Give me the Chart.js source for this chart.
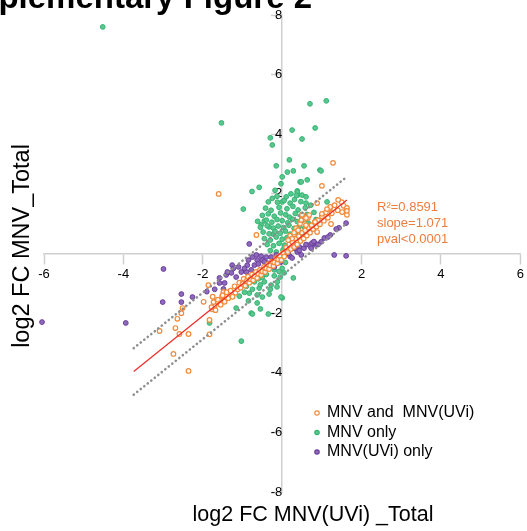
<!DOCTYPE html>
<html><head><meta charset="utf-8">
<script src="https://cdn.jsdelivr.net/npm/chart.js@4/dist/chart.umd.min.js"></script>
<style>html,body{margin:0;padding:0;background:#fff;overflow:hidden}#wrap{width:527px;height:531px;position:relative}</style>
</head><body><div id="wrap"><canvas id="c" width="527" height="531"></canvas></div>
<script>
// ---- data (log2 FC values) ----
const bothPoints = [
[-6.36,-6.93],[-1.6,2.0],[1.28,3.04],[-0.65,0.62],[-1.86,-1.06],[-2.51,-1.83],[-2.54,-2.0],[-2.64,-2.19],[-2.69,-2.5],[-3.09,-2.6],
[-2.59,-2.7],[-2.36,-2.7],[-2.74,-3.37],[-2.36,-3.94],[-1.83,-2.23],[-1.83,-2.71],[-1.76,-1.87],[-1.66,-1.61],[-1.75,-1.45],[-1.98,-1.62],
[-1.7,-1.75],[-1.48,-1.29],[-1.51,-1.43],[-1.48,-1.59],[-1.73,-1.63],[-1.78,-1.8],[-1.68,-1.9],
[-1.62,-1.55],[-1.55,-1.72],[-1.5,-1.4],[-1.45,-1.62],[-1.4,-1.3],[-1.36,-1.5],[-1.3,-1.25],[-1.25,-1.45],[-1.2,-1.1],[-1.18,-1.32],
[-1.12,-1.2],[-1.08,-0.98],[-1.05,-1.15],[-1.0,-1.02],[-0.97,-0.85],[-0.93,-1.08],[-0.9,-0.92],[-0.86,-0.78],[-0.83,-0.98],[-0.8,-0.86],
[-0.76,-0.7],[-0.73,-0.9],[-0.7,-0.76],[-0.66,-0.62],[-0.63,-0.82],[-0.6,-0.68],[-0.56,-0.55],[-0.53,-0.72],[-0.5,-0.6],[-0.46,-0.45],
[-0.43,-0.62],[-0.4,-0.5],[-0.36,-0.36],[-0.33,-0.52],[-0.3,-0.4],[-0.26,-0.27],[-0.22,-0.42],[-0.2,-0.3],[-0.16,-0.16],[-0.12,-0.33],
[-0.1,-0.2],[-0.06,-0.08],[-0.02,-0.22],[0.02,0.02],[0.05,-0.1],[0.1,0.2],[0.14,0.05],[0.18,0.3],[0.22,0.15],[0.26,0.38],[0.3,0.22],
[0.34,0.5],[0.38,0.3],[0.42,0.58],[0.46,0.42],[0.5,0.7],[0.54,0.5],[0.58,0.78],[0.62,0.6],[0.66,0.88],[0.7,0.7],[0.74,0.95],[0.78,0.82],
[0.82,1.05],[0.86,0.9],[0.9,1.12],[0.95,0.98],[1.0,1.25],[1.05,1.1],[1.1,1.38],[1.15,1.2],[1.2,1.5],[1.25,1.35],[1.32,1.62],[1.4,1.45],
[1.5,1.72],[1.55,1.6],[1.62,1.5],[1.63,1.3],
[0.2,0.6],[0.35,0.85],[0.45,1.0],[0.55,1.15],[0.6,0.95],[0.3,0.7],[0.4,0.78],[0.25,0.5],[0.65,1.2],[0.5,1.3],[0.15,0.45],
[1.0,2.27],[1.41,1.8],[1.21,1.56],[1.63,1.53],[1.63,1.43],[1.51,1.39],[1.23,0.99],[0.88,0.72],[0.68,1.29],[0.6,1.19],[0.88,1.69],
[1.0,1.33],[1.13,1.49],[0.83,1.06],[0.48,1.12]
];
const mnvOnlyPoints = [
[-4.52,7.6],[-1.53,4.38],[0.70,5.02],[1.11,5.12],[0.25,4.14],[0.83,4.21],[-0.30,3.88],[-0.25,3.64],[0.50,3.84],[0.18,3.14],
[-0.15,2.94],[0.13,2.73],[0.28,2.77],[0.55,2.94],[0.95,2.80],[0.0,2.57],[-0.03,2.34],[0.45,2.40],[0.63,2.47],[-0.58,2.22],
[-0.76,2.08],[-0.18,2.12],[-0.13,1.92],[-0.25,1.85],[-0.98,1.49],[0.38,2.1],[0.40,1.97],[-0.35,1.73],[0.0,1.73],[-0.45,1.09],
[-0.53,0.96],[-0.33,0.89],[-0.23,0.65],[0.48,2.4],[0.98,2.77],[0.38,2.06],[0.5,1.96],[0.6,1.9],[0.6,1.69],[1.13,1.73],
[-0.12,1.72],[0.05,1.78],[0.2,1.69],[0.31,1.81],[0.47,1.74],[0.1,1.9],[0.22,2.0],[0.36,1.95],
[-0.42,1.52],[-0.28,1.45],[-0.08,1.55],[0.12,1.5],[0.27,1.58],[0.4,1.46],[0.58,1.53],[0.72,1.62],
[-0.5,1.28],[-0.35,1.33],[-0.2,1.25],[-0.04,1.36],[0.09,1.3],[0.18,1.22],[0.33,1.34],[0.48,1.27],[0.63,1.31],[0.8,1.38],
[-0.62,1.08],[-0.4,1.12],[-0.26,1.05],[-0.13,1.14],[0.0,1.1],[0.14,1.03],[0.26,1.15],[0.38,1.07],[0.52,1.12],[0.66,1.02],[0.85,1.14],
[-0.55,0.88],[-0.38,0.93],[-0.22,0.85],[-0.1,0.92],[0.04,0.87],[0.17,0.95],[0.3,0.84],[0.43,0.9],[0.57,0.86],[0.7,0.93],[0.9,0.97],
[-0.48,0.72],[-0.33,0.66],[-0.18,0.74],[-0.05,0.68],[0.08,0.75],[0.2,0.65],[0.35,0.72],[0.5,0.67],[0.62,0.74],
[-0.45,0.5],[-0.3,0.45],[-0.15,0.55],[0.0,0.48],[0.12,0.53],[0.24,0.44],[0.38,0.52],
[-0.38,0.3],[-0.22,0.26],[-0.08,0.34],[0.06,0.28],[0.18,0.22],
[-0.3,0.1],[-0.15,0.05],[0.02,0.12],[0.12,0.04],
[-0.05,-0.15],[0.08,-0.3],[-0.03,-0.25],[0.0,-0.5],[-0.05,-0.79],[0.28,-0.82],[0.0,-1.49],[-0.2,-0.55],[-0.08,-0.6],[0.05,-0.65],
[-0.12,-0.95],[-0.28,-1.06],[-0.13,-1.12],[-0.58,-1.16],[-0.63,-1.39],[-0.83,-1.33],[-0.85,-1.59],[-1.08,-1.43],[-0.33,-1.36],[-0.78,-2.0],
[-0.03,-1.46],[-1.16,-1.83],[-0.75,-2.03],[-0.55,-1.86],[-0.35,-2.03],[-0.63,-1.66],[-0.5,-1.46],[-1.03,-2.94],[-1.83,-2.33],[-0.3,-1.2],
[-0.45,-0.95],[-0.6,-0.85],[-0.2,-0.75],[-0.9,-1.1],[-0.7,-0.95],[-0.5,-0.8],[-0.4,-0.7],[-0.75,-1.2],[-0.95,-1.3],[-0.55,-1.05]
];
const uviOnlyPoints = [
[-0.83,0.32],[-0.75,-0.12],[-0.65,-0.05],[-0.53,-0.09],[-0.4,-0.12],[-0.28,-0.12],[-0.15,-0.05],[-0.63,-0.22],[-0.5,-0.22],[-0.7,-0.39],
[-0.88,-0.39],[-0.78,-0.55],[-0.9,-0.62],[-1.26,-0.39],[-1.28,-0.65],[-1.41,-0.72],[-1.58,-0.99],[-1.45,-0.99],[-1.16,-0.79],[-1.03,-0.62],
[-0.38,-0.32],[-0.25,-0.29],[-0.6,-0.35],[-0.45,-0.28],[-0.95,-0.5],[-1.1,-0.45],[-0.85,-0.22],[-0.1,-0.2],[-0.05,-0.3],[-0.2,-0.45],
[1.61,1.02],[1.43,0.86],[1.36,0.82],[1.21,0.62],[1.06,0.52],[0.98,0.39],[0.85,0.32],[0.75,0.25],[0.68,0.28],[0.55,0.18],
[0.43,0.22],[0.35,0.15],[0.3,0.18],[0.38,0.05],[0.48,-0.05],[0.43,0.1],[0.73,0.18],[0.75,0.35],[1.31,-0.05],[1.61,-0.08],
[0.8,0.4],[0.6,0.3],[0.2,-0.1],[0.15,0.0],[0.25,-0.15],[0.9,0.3],[1.15,0.55],
[-2.99,-0.52],[-3.01,-1.63],[-2.54,-1.36],[-2.54,-1.63],[-2.26,-1.46],[-3.94,-2.33],[-1.38,-0.62],[-1.58,-0.82],[-1.48,-1.19],[-1.23,-0.5],
[-6.05,-2.3],[-1.7,-1.2],[-1.9,-1.28]
];
const xTickValues = [-6,-4,-2,0,2,4,6];
const yTickValues = [-8,-6,-4,-2,0,2,4,6,8];
const fitSlope = 1.071;
const fitIntercept = 0.05;
const fitBand = 0.78;
const fitXRange = [-3.74, 1.63];
const statLines = ['R\u00B2=0.8591','slope=1.071','pval<0.0001'];
const seriesNames = ['MNV and  MNV(UVi)','MNV only','MNV(UVi) only'];
const titleText = 'Supplementary Figure 2';
const xTitle = 'log2 FC MNV(UVi) _Total';
const yTitle = 'log2 FC MNV_Total';

// ---- styling ----
const FONT = '"Liberation Sans", Arial, Helvetica, sans-serif';
const ORANGE = '#F28A3A', GREEN = '#33B472', PURPLE = '#6A3B9C';
const GREEN_FILL = '#5BC78E', PURPLE_FILL = '#8E6BBA';
const AXIS = '#cfcfcf';

const toXY = a => a.map(p => ({x:p[0], y:p[1]}));
const fitLine = off => fitXRange.map(x => ({x, y: fitSlope*x + fitIntercept + off}));

const deco = {
  id:'deco',
  afterDraw(chart){
    const ctx = chart.ctx;
    ctx.save();
    ctx.fillStyle = '#000';
    ctx.textBaseline = 'alphabetic';
    ctx.font = 'bold 33px ' + FONT;
    ctx.textAlign = 'right';
    ctx.fillText(titleText, 312, 8);
    ctx.font = '21.5px ' + FONT;
    ctx.textAlign = 'center';
    ctx.fillText(xTitle, 313, 521);
    ctx.save();
    ctx.translate(29, 246);
    ctx.rotate(-Math.PI/2);
    ctx.font = '23.5px ' + FONT;
    ctx.fillText(yTitle, 0, 0);
    ctx.restore();
    // stats
    ctx.fillStyle = '#EF7D3C';
    ctx.font = '13px ' + FONT;
    ctx.textAlign = 'left';
    ctx.textBaseline = 'middle';
    statLines.forEach((t,i) => ctx.fillText(t, 377, 207 + i*16.3));
    // legend
    const cols = [[ORANGE,'#fff'],[GREEN,GREEN_FILL],[PURPLE,PURPLE_FILL]];
    ctx.font = '16px ' + FONT;
    seriesNames.forEach((t,i) => {
      const y = 413 + i*19.5;
      ctx.beginPath();
      ctx.arc(317, y, 2.2, 0, Math.PI*2);
      ctx.fillStyle = cols[i][1]; ctx.fill();
      ctx.lineWidth = 1.2; ctx.strokeStyle = cols[i][0]; ctx.stroke();
      ctx.fillStyle = '#000';
      ctx.fillText(t, 327, y);
    });
    ctx.restore();
  }
};

new Chart(document.getElementById('c'), {
  type:'scatter',
  data:{
    datasets:[
      {type:'line', data:fitLine(0), borderColor:'#EE2A2A', borderWidth:1.2, pointRadius:0, fill:false, order:0},
      {type:'line', data:fitLine(fitBand), borderColor:'#8f8f8f', borderWidth:2.6, borderDash:[0.1,4.4], borderCapStyle:'round', pointRadius:0, fill:false, order:0},
      {type:'line', data:fitLine(-fitBand), borderColor:'#8f8f8f', borderWidth:2.6, borderDash:[0.1,4.4], borderCapStyle:'round', pointRadius:0, fill:false, order:0},
      {label:seriesNames[0], data:toXY(bothPoints), clip:false, pointRadius:2.3, borderWidth:1.2, borderColor:ORANGE, backgroundColor:'rgba(255,255,255,0.85)', order:1},
      {label:seriesNames[2], data:toXY(uviOnlyPoints), clip:false, pointRadius:2.4, borderWidth:1, borderColor:PURPLE, backgroundColor:PURPLE_FILL, order:2},
      {label:seriesNames[1], data:toXY(mnvOnlyPoints), clip:false, pointRadius:2.4, borderWidth:1, borderColor:GREEN, backgroundColor:GREEN_FILL, order:3}
    ]
  },
  options:{
    responsive:false, animation:false, devicePixelRatio:1,
    layout:{padding:{left:44, right:6, top:15, bottom:39}},
    plugins:{legend:{display:false}, tooltip:{enabled:false}},
    scales:{
      x:{type:'linear', min:-6, max:6, position:{y:0},
        afterBuildTicks: s => { s.ticks = xTickValues.map(v => ({value:v})); },
        afterFit: s => { s.height = 0; },
        ticks:{callback:v => v===0 ? '' : String(v), color:'#000', font:{size:13, family:FONT}, padding:3, maxRotation:0, autoSkip:false},
        grid:{drawOnChartArea:false, drawTicks:true, tickLength:10, tickColor:AXIS, tickWidth:1.5},
        border:{display:true, color:AXIS, width:1.5}},
      y:{type:'linear', min:-8, max:8, position:{x:0},
        afterBuildTicks: s => { s.ticks = yTickValues.map(v => ({value:v})); },
        afterFit: s => { s.width = 0; },
        ticks:{callback:v => v===0 ? '' : String(v), color:'#000', font:{size:13, family:FONT}, padding:3, autoSkip:false},
        grid:{drawOnChartArea:false, drawTicks:true, tickLength:10, tickColor:AXIS, tickWidth:1.5},
        border:{display:true, color:AXIS, width:1.5}}
    }
  },
  plugins:[deco]
});
</script></body></html>
